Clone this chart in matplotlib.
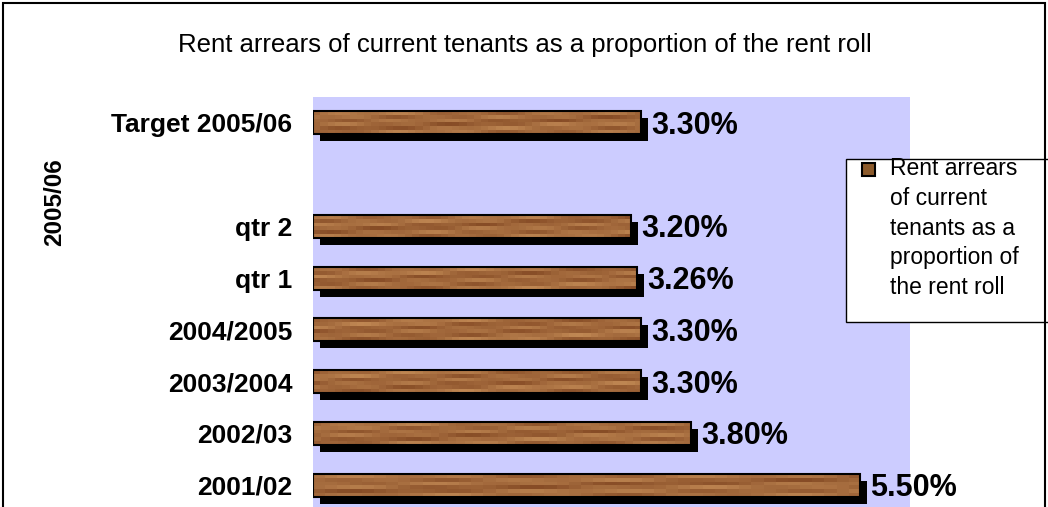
import numpy as np
import matplotlib
matplotlib.use("Agg")
import matplotlib.pyplot as plt
import matplotlib.transforms as mtransforms
from matplotlib.patches import Rectangle

plt.rcParams["font.family"] = ["Liberation Sans", "DejaVu Sans"]

# === DATA ===
categories = ["Target 2005/06", "", "qtr 2", "qtr 1", "2004/2005", "2003/2004", "2002/03", "2001/02"]
values = [3.30, np.nan, 3.20, 3.26, 3.30, 3.30, 3.80, 5.50]
value_labels = ["3.30%", "", "3.20%", "3.26%", "3.30%", "3.30%", "3.80%", "5.50%"]
title = "Rent arrears of current tenants as a proportion of the rent roll"
group_label = "2005/06"
legend_lines = ["Rent arrears", "of current", "tenants as a", "proportion of", "the rent roll"]

BAR_H = 0.44


def wood_texture(k):
    # deterministic grain pattern, purely decorative
    xx = np.linspace(0, 1, 45)
    ph = np.arange(6)[:, None] * 2.3
    g = (0.45 + 0.22 * np.sin(9 * xx + ph + k) + 0.16 * np.sin(29 * xx + 1.7 * ph)
         + 0.1 * np.sin(4 * xx + 0.5 * ph))
    g = np.clip(g, 0, 1)
    dark = np.array([0.53, 0.30, 0.15])
    light = np.array([0.77, 0.55, 0.34])
    return dark + (light - dark) * g[..., None]


fig = plt.figure(figsize=(10.48, 5.07), dpi=100)
ax = fig.add_axes([313 / 1048, (507 - 511) / 507, 597 / 1048, 414 / 507])
ax.set_facecolor("#CCCCFF")

ypos = np.arange(len(categories))
shadow_tr = mtransforms.offset_copy(ax.transData, fig=fig, x=7, y=-7, units="dots")

for i, v in enumerate(values):
    if np.isnan(v):
        continue
    ax.add_patch(Rectangle((0, i - BAR_H / 2), v, BAR_H, facecolor="black",
                           edgecolor="none", transform=shadow_tr, zorder=2))
    bar = Rectangle((0, i - BAR_H / 2), v, BAR_H, facecolor="#A0693A",
                    edgecolor="none", zorder=3)
    ax.add_patch(bar)
    im = ax.imshow(wood_texture(i), extent=(0, v, i + BAR_H / 2, i - BAR_H / 2),
                   aspect="auto", interpolation="nearest", zorder=3.5)
    im.set_clip_path(bar)
    ax.add_patch(Rectangle((0, i - BAR_H / 2), v, BAR_H, fill=False,
                           edgecolor="black", linewidth=1.5, zorder=4))
    ax.annotate(value_labels[i], (v, i), xytext=(10, -3), textcoords="offset pixels",
                ha="left", va="center", fontsize=22, fontweight="bold", zorder=5,
                annotation_clip=False)

ax.set_xlim(0, 6)
ax.set_ylim(len(categories) - 0.5, -0.5)
ax.set_yticks(ypos)
ax.set_yticklabels(categories, fontsize=19, fontweight="bold")
ax.tick_params(axis="y", length=0, pad=15)
ax.set_xticks([])
for s in ax.spines.values():
    s.set_visible(False)

fig.text(525 / 1048, 1 - 45 / 507, title, ha="center", va="center", fontsize=18.5)
fig.text(55 / 1048, 1 - 202 / 507, group_label, rotation=90, ha="center", va="center",
         fontsize=17.5, fontweight="bold")

# legend box drawn by hand so the marker sits on the first line
fig.patches.append(Rectangle((846 / 1048, 1 - 322 / 507), 220 / 1048, 163 / 507,
                             transform=fig.transFigure, facecolor="white",
                             edgecolor="black", linewidth=1, zorder=6))
fig.patches.append(Rectangle((862 / 1048, 1 - 176 / 507), 13 / 1048, 13 / 507,
                             transform=fig.transFigure, facecolor="#8B5A2B",
                             edgecolor="black", linewidth=1.5, zorder=7))
for k, line in enumerate(legend_lines):
    fig.text(890 / 1048, 1 - (169 + 29.5 * k) / 507, line, ha="left", va="center",
             fontsize=16.5, zorder=8)

# outer frame
fig.patches.append(Rectangle((3 / 1048, -0.02), 1042 / 1048, 1.02 - 3 / 507,
                             transform=fig.transFigure, fill=False,
                             edgecolor="black", linewidth=1.5, zorder=9))

fig.savefig("out.png", dpi=100)
